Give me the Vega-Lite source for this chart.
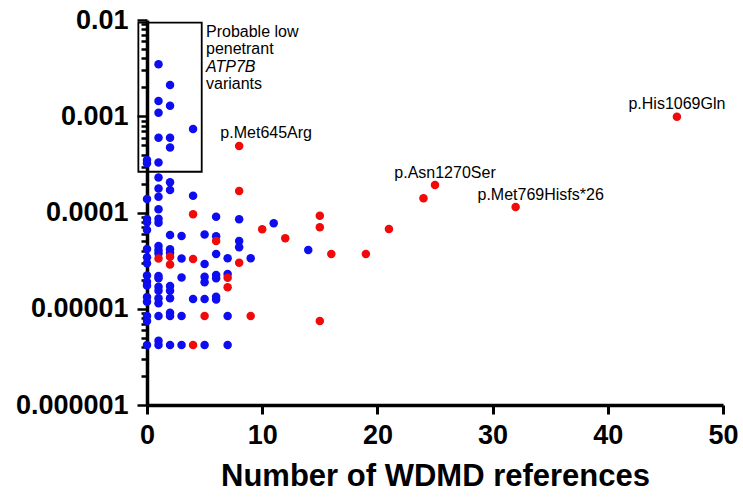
{
  "$schema": "https://vega.github.io/schema/vega-lite/v6.json",
  "width": 576,
  "height": 385,
  "autosize": {"type": "none"},
  "padding": {"left": 147, "top": 20, "right": 20, "bottom": 94},
  "config": {
    "view": {"stroke": null},
    "axis": {
      "grid": false,
      "labelFont": "Liberation Sans",
      "labelFontWeight": "bold",
      "labelFontSize": 27,
      "labelColor": "#000000",
      "domainColor": "#000000",
      "tickColor": "#000000",
      "titleFont": "Liberation Sans",
      "titleColor": "#000000",
      "labelFlush": false,
      "labelOverlap": false,
      "labelBound": false
    },
    "text": {"font": "Liberation Sans", "fontSize": 16, "color": "#000000", "baseline": "middle"}
  },
  "datasets": {
    "note": [{"refs": 5.12, "freq": 0.00403}]
  },
  "data": {
    "values": [
      {"refs": 0, "freq": 0.000351, "group": "Group 1"},
      {"refs": 0, "freq": 0.0003245, "group": "Group 1"},
      {"refs": 0, "freq": 0.0001381, "group": "Group 1"},
      {"refs": 0, "freq": 0.0000856, "group": "Group 1"},
      {"refs": 0, "freq": 0.0000791, "group": "Group 1"},
      {"refs": 0, "freq": 0.0000658, "group": "Group 1"},
      {"refs": 0, "freq": 0.0000418, "group": "Group 1"},
      {"refs": 0, "freq": 0.0000342, "group": "Group 1"},
      {"refs": 0, "freq": 0.0000297, "group": "Group 1"},
      {"refs": 0, "freq": 0.0000222, "group": "Group 1"},
      {"refs": 0, "freq": 0.0000191, "group": "Group 1"},
      {"refs": 0, "freq": 0.00001744, "group": "Group 1"},
      {"refs": 0, "freq": 0.00001324, "group": "Group 1"},
      {"refs": 0, "freq": 0.00001183, "group": "Group 1"},
      {"refs": 0, "freq": 0.00000841, "group": "Group 1"},
      {"refs": 0, "freq": 0.00000746, "group": "Group 1"},
      {"refs": 0, "freq": 0.0000042, "group": "Group 1"},
      {"refs": 1, "freq": 0.003465, "group": "Group 1"},
      {"refs": 1, "freq": 0.00144, "group": "Group 1"},
      {"refs": 1, "freq": 0.001088, "group": "Group 1"},
      {"refs": 1, "freq": 0.000598, "group": "Group 1"},
      {"refs": 1, "freq": 0.000331, "group": "Group 1"},
      {"refs": 1, "freq": 0.000231, "group": "Group 1"},
      {"refs": 1, "freq": 0.0001776, "group": "Group 1"},
      {"refs": 1, "freq": 0.0001459, "group": "Group 1"},
      {"refs": 1, "freq": 0.0001082, "group": "Group 1"},
      {"refs": 1, "freq": 0.0000862, "group": "Group 1"},
      {"refs": 1, "freq": 0.0000783, "group": "Group 1"},
      {"refs": 1, "freq": 0.0000449, "group": "Group 1"},
      {"refs": 1, "freq": 0.0000408, "group": "Group 1"},
      {"refs": 1, "freq": 0.0000377, "group": "Group 1"},
      {"refs": 1, "freq": 0.0000219, "group": "Group 1"},
      {"refs": 1, "freq": 0.0000207, "group": "Group 1"},
      {"refs": 1, "freq": 0.00001694, "group": "Group 1"},
      {"refs": 1, "freq": 0.0000154, "group": "Group 1"},
      {"refs": 1, "freq": 0.00001284, "group": "Group 1"},
      {"refs": 1, "freq": 0.00001139, "group": "Group 1"},
      {"refs": 1, "freq": 0.00000841, "group": "Group 1"},
      {"refs": 1, "freq": 0.00000466, "group": "Group 1"},
      {"refs": 1, "freq": 0.0000042, "group": "Group 1"},
      {"refs": 2, "freq": 0.002113, "group": "Group 1"},
      {"refs": 2, "freq": 0.001287, "group": "Group 1"},
      {"refs": 2, "freq": 0.000598, "group": "Group 1"},
      {"refs": 2, "freq": 0.000474, "group": "Group 1"},
      {"refs": 2, "freq": 0.000206, "group": "Group 1"},
      {"refs": 2, "freq": 0.0001714, "group": "Group 1"},
      {"refs": 2, "freq": 0.0000584, "group": "Group 1"},
      {"refs": 2, "freq": 0.0000415, "group": "Group 1"},
      {"refs": 2, "freq": 0.0000382, "group": "Group 1"},
      {"refs": 2, "freq": 0.00001723, "group": "Group 1"},
      {"refs": 2, "freq": 0.0000154, "group": "Group 1"},
      {"refs": 2, "freq": 0.00001284, "group": "Group 1"},
      {"refs": 2, "freq": 0.0000091, "group": "Group 1"},
      {"refs": 2, "freq": 0.00000841, "group": "Group 1"},
      {"refs": 2, "freq": 0.0000042, "group": "Group 1"},
      {"refs": 3, "freq": 0.000057, "group": "Group 1"},
      {"refs": 3, "freq": 0.0000333, "group": "Group 1"},
      {"refs": 3, "freq": 0.0000211, "group": "Group 1"},
      {"refs": 3, "freq": 0.00000841, "group": "Group 1"},
      {"refs": 3, "freq": 0.0000042, "group": "Group 1"},
      {"refs": 4, "freq": 0.000737, "group": "Group 1"},
      {"refs": 4, "freq": 0.0001494, "group": "Group 1"},
      {"refs": 4, "freq": 0.00001263, "group": "Group 1"},
      {"refs": 5, "freq": 0.0000591, "group": "Group 1"},
      {"refs": 5, "freq": 0.0000292, "group": "Group 1"},
      {"refs": 5, "freq": 0.0000215, "group": "Group 1"},
      {"refs": 5, "freq": 0.00001883, "group": "Group 1"},
      {"refs": 5, "freq": 0.00001263, "group": "Group 1"},
      {"refs": 5, "freq": 0.0000042, "group": "Group 1"},
      {"refs": 6, "freq": 0.0000905, "group": "Group 1"},
      {"refs": 6, "freq": 0.0000566, "group": "Group 1"},
      {"refs": 6, "freq": 0.0000371, "group": "Group 1"},
      {"refs": 6, "freq": 0.0000224, "group": "Group 1"},
      {"refs": 6, "freq": 0.0000207, "group": "Group 1"},
      {"refs": 6, "freq": 0.00001334, "group": "Group 1"},
      {"refs": 6, "freq": 0.00001248, "group": "Group 1"},
      {"refs": 7, "freq": 0.0000334, "group": "Group 1"},
      {"refs": 7, "freq": 0.000023, "group": "Group 1"},
      {"refs": 7, "freq": 0.00000841, "group": "Group 1"},
      {"refs": 7, "freq": 0.0000042, "group": "Group 1"},
      {"refs": 8, "freq": 0.000085, "group": "Group 1"},
      {"refs": 8, "freq": 0.0000506, "group": "Group 1"},
      {"refs": 8, "freq": 0.0000435, "group": "Group 1"},
      {"refs": 9, "freq": 0.0000334, "group": "Group 1"},
      {"refs": 11, "freq": 0.0000772, "group": "Group 1"},
      {"refs": 14, "freq": 0.0000408, "group": "Group 1"},
      {"refs": 1, "freq": 0.0000333, "group": "Group 2"},
      {"refs": 2, "freq": 0.0000347, "group": "Group 2"},
      {"refs": 2, "freq": 0.0000288, "group": "Group 2"},
      {"refs": 4, "freq": 0.000096, "group": "Group 2"},
      {"refs": 4, "freq": 0.0000329, "group": "Group 2"},
      {"refs": 4, "freq": 0.0000042, "group": "Group 2"},
      {"refs": 5, "freq": 0.00000841, "group": "Group 2"},
      {"refs": 6, "freq": 0.0000506, "group": "Group 2"},
      {"refs": 7, "freq": 0.000021, "group": "Group 2"},
      {"refs": 7, "freq": 0.0000167, "group": "Group 2"},
      {"refs": 8, "freq": 0.000491, "group": "Group 2", "label": "p.Met645Arg"},
      {"refs": 8, "freq": 0.0001671, "group": "Group 2"},
      {"refs": 8, "freq": 0.0000301, "group": "Group 2"},
      {"refs": 9, "freq": 0.00000841, "group": "Group 2"},
      {"refs": 10, "freq": 0.0000669, "group": "Group 2"},
      {"refs": 12, "freq": 0.000054, "group": "Group 2"},
      {"refs": 15, "freq": 0.0000926, "group": "Group 2"},
      {"refs": 15, "freq": 0.0000702, "group": "Group 2"},
      {"refs": 15, "freq": 0.00000746, "group": "Group 2"},
      {"refs": 16, "freq": 0.0000371, "group": "Group 2"},
      {"refs": 19, "freq": 0.0000371, "group": "Group 2"},
      {"refs": 21, "freq": 0.0000674, "group": "Group 2"},
      {"refs": 24, "freq": 0.0001404, "group": "Group 2"},
      {"refs": 25, "freq": 0.000193, "group": "Group 2", "label": "p.Asn1270Ser"},
      {"refs": 32, "freq": 0.000114, "group": "Group 2", "label": "p.Met769Hisfs*26"},
      {"refs": 46, "freq": 0.00099, "group": "Group 2", "label": "p.His1069Gln"}
    ]
  },
  "layer": [
    {
      "mark": {"type": "circle", "size": 72, "opacity": 1},
      "encoding": {
        "x": {
          "field": "refs", "type": "quantitative",
          "title": "Number of WDMD references",
          "scale": {"domain": [0, 50], "nice": false, "zero": false},
          "axis": {
            "values": [0, 10, 20, 30, 40, 50],
            "tickSize": 9, "tickWidth": 3, "domainWidth": 3.5,
            "labelPadding": 8,
            "titleFontSize": 31, "titleFontWeight": "bold", "titlePadding": 13
          }
        },
        "y": {
          "field": "freq", "type": "quantitative",
          "title": null,
          "scale": {"type": "log", "domain": [0.000001, 0.01], "nice": false},
          "axis": {
            "values": [0.000001, 0.000002, 0.000003, 0.000004, 0.000005, 0.000006, 0.000007, 0.000008, 0.000009,
                       0.00001, 0.00002, 0.00003, 0.00004, 0.00005, 0.00006, 0.00007, 0.00008, 0.00009,
                       0.0001, 0.0002, 0.0003, 0.0004, 0.0005, 0.0006, 0.0007, 0.0008, 0.0009,
                       0.001, 0.002, 0.003, 0.004, 0.005, 0.006, 0.007, 0.008, 0.009, 0.01],
            "labelExpr": "abs(log(datum.value)/LN10 - round(log(datum.value)/LN10)) < 0.001 ? format(datum.value, '.6~f') : ''",
            "tickSize": {"condition": {"test": "abs(log(datum.value)/LN10 - round(log(datum.value)/LN10)) < 0.001", "value": 10}, "value": 6},
            "tickWidth": 2.5, "domainWidth": 3.5,
            "labelPadding": 9
          }
        },
        "color": {
          "field": "group", "type": "nominal", "legend": null,
          "scale": {"domain": ["Group 1", "Group 2"], "range": ["#0d0df0", "#f00a0a"]}
        }
      }
    },
    {
      "data": {"values": [{"refs": -0.75, "refs2": 4.75, "freq": 0.0094, "freq2": 0.000265}]},
      "mark": {"type": "rect", "fillOpacity": 0, "stroke": "#000000", "strokeWidth": 1.8},
      "encoding": {
        "x": {"field": "refs", "type": "quantitative", "title": "Number of WDMD references"},
        "x2": {"field": "refs2"},
        "y": {"field": "freq", "type": "quantitative", "title": null, "scale": {"type": "log"}},
        "y2": {"field": "freq2"}
      }
    },
    {
      "data": {"name": "note"},
      "mark": {"type": "text", "align": "left", "dy": -26, "text": "Probable low"},
      "encoding": {
        "x": {"field": "refs", "type": "quantitative", "title": "Number of WDMD references"},
        "y": {"field": "freq", "type": "quantitative", "title": null, "scale": {"type": "log"}}
      }
    },
    {
      "data": {"name": "note"},
      "mark": {"type": "text", "align": "left", "dy": -9, "text": "penetrant"},
      "encoding": {
        "x": {"field": "refs", "type": "quantitative", "title": "Number of WDMD references"},
        "y": {"field": "freq", "type": "quantitative", "title": null, "scale": {"type": "log"}}
      }
    },
    {
      "data": {"name": "note"},
      "mark": {"type": "text", "align": "left", "dy": 9, "fontStyle": "italic", "text": "ATP7B"},
      "encoding": {
        "x": {"field": "refs", "type": "quantitative", "title": "Number of WDMD references"},
        "y": {"field": "freq", "type": "quantitative", "title": null, "scale": {"type": "log"}}
      }
    },
    {
      "data": {"name": "note"},
      "mark": {"type": "text", "align": "left", "dy": 26, "text": "variants"},
      "encoding": {
        "x": {"field": "refs", "type": "quantitative", "title": "Number of WDMD references"},
        "y": {"field": "freq", "type": "quantitative", "title": null, "scale": {"type": "log"}}
      }
    },
    {
      "transform": [{"filter": "datum.label == 'p.His1069Gln'"}],
      "mark": {"type": "text", "align": "center", "dy": -13},
      "encoding": {
        "x": {"field": "refs", "type": "quantitative", "title": "Number of WDMD references"},
        "y": {"field": "freq", "type": "quantitative", "title": null, "scale": {"type": "log"}},
        "text": {"field": "label"}
      }
    },
    {
      "transform": [{"filter": "datum.label == 'p.Asn1270Ser'"}],
      "mark": {"type": "text", "align": "center", "dx": 10, "dy": -12},
      "encoding": {
        "x": {"field": "refs", "type": "quantitative", "title": "Number of WDMD references"},
        "y": {"field": "freq", "type": "quantitative", "title": null, "scale": {"type": "log"}},
        "text": {"field": "label"}
      }
    },
    {
      "transform": [{"filter": "datum.label == 'p.Met769Hisfs*26'"}],
      "mark": {"type": "text", "align": "center", "dx": 25, "dy": -12},
      "encoding": {
        "x": {"field": "refs", "type": "quantitative", "title": "Number of WDMD references"},
        "y": {"field": "freq", "type": "quantitative", "title": null, "scale": {"type": "log"}},
        "text": {"field": "label"}
      }
    },
    {
      "transform": [{"filter": "datum.label == 'p.Met645Arg'"}],
      "mark": {"type": "text", "align": "center", "dx": 27, "dy": -13},
      "encoding": {
        "x": {"field": "refs", "type": "quantitative", "title": "Number of WDMD references"},
        "y": {"field": "freq", "type": "quantitative", "title": null, "scale": {"type": "log"}},
        "text": {"field": "label"}
      }
    }
  ]
}
